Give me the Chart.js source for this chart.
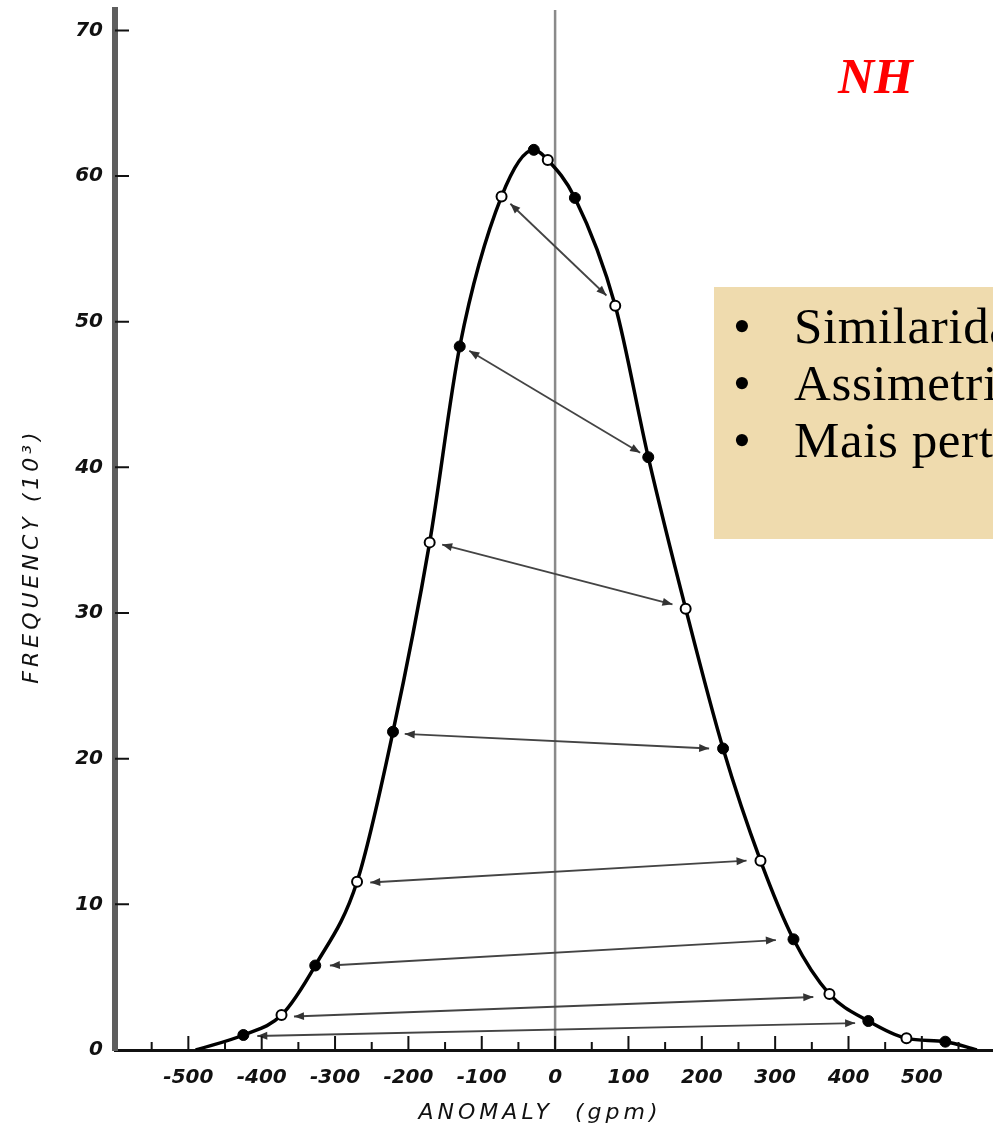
<!DOCTYPE html>
<html>
<head>
<meta charset="utf-8">
<script src="https://cdn.jsdelivr.net/npm/chart.js@4.4.0/dist/chart.umd.min.js"></script>
<style>
  html, body { margin: 0; padding: 0; overflow: hidden; background: #fff; }
  #wrap { position: relative; width: 993px; height: 1138px; overflow: hidden; }
  #chart { position: absolute; left: 0; top: 0; }
  .nh { position: absolute; left: 838px; top: 51px; font: italic bold 50px "Liberation Serif", serif; line-height: 50px; color: #ff0000; }
  .note { position: absolute; left: 714px; top: 287px; width: 330px; height: 252px; box-sizing: border-box; padding-top: 11px;
          background: #efdbae; color: #000; font-family: "Liberation Serif", serif; font-size: 51px; line-height: 57px;
          letter-spacing: 0.6px; white-space: nowrap; }
  .note div { position: relative; padding-left: 80px; }
  .note div span { position: absolute; left: 19px; }
</style>
</head>
<body>
<div id="wrap">
  <canvas id="chart" width="1000" height="1138"></canvas>
  <div class="nh">NH</div>
  <div class="note">
    <div><span>•</span>Similaridade</div>
    <div><span>•</span>Assimetria</div>
    <div><span>•</span>Mais perto</div>
  </div>
</div>
<script>
// anomaly (gpm) / frequency (10^3)
const curveX = [-490, -425, -373, -327, -270, -221, -171, -130, -73, -29, -10, 27, 82, 127, 178, 229, 280, 325, 374, 427, 479, 532, 575];
const curveY = [0, 1.03, 2.4, 5.8, 11.55, 21.85, 34.85, 48.3, 58.6, 61.8, 61.1, 58.5, 51.1, 40.7, 30.3, 20.7, 13.0, 7.6, 3.84, 1.99, 0.8, 0.57, 0];

const filledX = [-425, -327, -221, -130, -29, 27, 127, 229, 325, 427, 532];
const filledY = [1.03, 5.8, 21.85, 48.3, 61.8, 58.5, 40.7, 20.7, 7.6, 1.99, 0.57];

const openX = [-373, -270, -171, -73, -10, 82, 178, 280, 374, 479];
const openY = [2.4, 11.55, 34.85, 58.6, 61.1, 51.1, 30.3, 13.0, 3.84, 0.8];

// double arrows joining points of equal probability
const arrowFromX = [-61, -117, -154, -205, -252, -307, -356, -406];
const arrowFromY = [58.1, 48.0, 34.7, 21.7, 11.5, 5.8, 2.3, 0.96];
const arrowToX = [70, 116, 160, 210, 261, 301, 352, 409];
const arrowToY = [51.8, 41.0, 30.6, 20.7, 13.0, 7.55, 3.64, 1.85];

const zeroLineX = [0, 0];
const zeroLineY = [0, 71.4];

const xTitle = 'ANOMALY  (gpm)';
const yTitle = 'FREQUENCY (10³)';

function pts(xs, ys) {
  return xs.map((x, i) => ({ x: x, y: ys[i] }));
}

const tickFont = { family: 'DejaVu Sans', style: 'italic', weight: 'bold', size: 20 };

const datasets = [
  {
    data: pts(filledX, filledY),
    showLine: false,
    pointRadius: 5.5,
    pointBackgroundColor: '#000',
    pointBorderColor: '#000',
    pointBorderWidth: 1
  },
  {
    data: pts(openX, openY),
    showLine: false,
    pointRadius: 5,
    pointBackgroundColor: '#fff',
    pointBorderColor: '#000',
    pointBorderWidth: 2
  },
  {
    data: pts(curveX, curveY),
    showLine: true,
    cubicInterpolationMode: 'monotone',
    borderColor: '#000',
    borderWidth: 3.5,
    pointRadius: 0
  }
];

arrowFromX.forEach((x, i) => {
  datasets.push({
    arrow: true,
    data: [{ x: x, y: arrowFromY[i] }, { x: arrowToX[i], y: arrowToY[i] }],
    showLine: true,
    borderColor: '#444',
    borderWidth: 1.8,
    pointRadius: 0
  });
});

datasets.push({
  data: pts(zeroLineX, zeroLineY),
  showLine: true,
  borderColor: '#8a8a8a',
  borderWidth: 2.5,
  pointRadius: 0
});

// arrow heads on both ends of each arrow dataset
const arrowHeads = {
  id: 'arrowHeads',
  afterDatasetsDraw(chart) {
    const ctx = chart.ctx;
    ctx.save();
    ctx.fillStyle = '#333';
    chart.data.datasets.forEach((ds, i) => {
      if (!ds.arrow) return;
      const meta = chart.getDatasetMeta(i);
      const a = meta.data[0], b = meta.data[1];
      head(ctx, b.x, b.y, a.x, a.y);
      head(ctx, a.x, a.y, b.x, b.y);
    });
    ctx.restore();
  }
};

function head(ctx, fx, fy, tx, ty) {
  const ang = Math.atan2(ty - fy, tx - fx);
  const len = 10, w = 4;
  ctx.beginPath();
  ctx.moveTo(tx, ty);
  ctx.lineTo(tx - len * Math.cos(ang) + w * Math.sin(ang), ty - len * Math.sin(ang) - w * Math.cos(ang));
  ctx.lineTo(tx - len * Math.cos(ang) - w * Math.sin(ang), ty - len * Math.sin(ang) + w * Math.cos(ang));
  ctx.closePath();
  ctx.fill();
}

// tick marks pointing into the plot, longer every 100 gpm
const innerTicks = {
  id: 'innerTicks',
  afterDatasetsDraw(chart) {
    const { ctx, chartArea, scales: { x, y } } = chart;
    ctx.save();
    ctx.strokeStyle = '#111';
    ctx.lineWidth = 2;
    ctx.beginPath();
    x.ticks.forEach(t => {
      if (t.value <= x.min) return;
      const px = x.getPixelForValue(t.value);
      const len = t.value % 100 === 0 ? 14 : 8;
      ctx.moveTo(px, chartArea.bottom);
      ctx.lineTo(px, chartArea.bottom - len);
    });
    y.ticks.forEach(t => {
      if (t.value <= 0) return;
      const py = y.getPixelForValue(t.value);
      ctx.moveTo(chartArea.left, py);
      ctx.lineTo(chartArea.left + 14, py);
    });
    ctx.stroke();
    ctx.restore();
  }
};

const axisTitles = {
  id: 'axisTitles',
  afterDraw(chart) {
    const { ctx, chartArea } = chart;
    ctx.save();
    ctx.fillStyle = '#111';
    ctx.font = 'italic 22px "DejaVu Sans"';
    ctx.letterSpacing = '4px';
    ctx.textAlign = 'center';
    ctx.textBaseline = 'middle';
    ctx.fillText(xTitle, chartArea.left + 425, chartArea.bottom + 63);
    ctx.translate(32, chartArea.bottom - 494);
    ctx.rotate(-Math.PI / 2);
    ctx.fillText(yTitle, 0, 0);
    ctx.restore();
  }
};

new Chart(document.getElementById('chart'), {
  type: 'scatter',
  data: { datasets: datasets },
  plugins: [arrowHeads, innerTicks, axisTitles],
  options: {
    responsive: false,
    animation: false,
    layout: { padding: { top: 10, right: 0, left: 0, bottom: 0 } },
    plugins: { legend: { display: false }, tooltip: { enabled: false } },
    scales: {
      x: {
        type: 'linear',
        min: -600,
        max: 597,
        afterFit: s => { s.height = 88; s.paddingLeft = 0; s.paddingRight = 0; },
        grid: { display: false },
        border: { display: true, color: '#111', width: 3 },
        ticks: {
          stepSize: 50,
          includeBounds: false,
          autoSkip: false,
          maxRotation: 0,
          padding: 8,
          color: '#111',
          font: tickFont,
          callback: v => (v % 100 === 0 && v >= -500) ? String(v) : ''
        }
      },
      y: {
        type: 'linear',
        min: 0,
        max: 71.4,
        afterFit: s => { s.width = 115; s.paddingTop = 0; s.paddingBottom = 0; },
        grid: { display: false },
        border: { display: true, color: '#5e5e5e', width: 6 },
        ticks: {
          stepSize: 10,
          includeBounds: false,
          padding: 4,
          color: '#111',
          font: tickFont
        }
      }
    }
  }
});
</script>
</body>
</html>
